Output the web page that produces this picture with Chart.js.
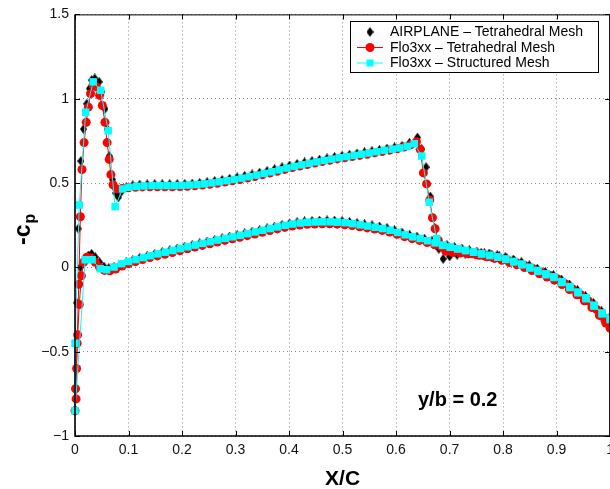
<!DOCTYPE html>
<html><head><meta charset="utf-8">
<script src="https://cdn.jsdelivr.net/npm/chart.js@4.4.1/dist/chart.umd.min.js"></script>
<style>
html,body{margin:0;padding:0;background:#fff;overflow:hidden;width:610px;height:489px}
#wrap{position:relative;width:610px;height:489px;overflow:hidden}
canvas{display:block}
</style></head>
<body><div id="wrap"><canvas id="c" width="620" height="489"></canvas></div>
<script>
// ---------- tick labels ----------
const xTickValues = [0,0.1,0.2,0.3,0.4,0.5,0.6,0.7,0.8,0.9,1];
const xTickLabels = ['0','0.1','0.2','0.3','0.4','0.5','0.6','0.7','0.8','0.9','1'];
const yTickValues = [-1,-0.5,0,0.5,1,1.5];
const yTickLabels = ['\u22121','\u22120.5','0','0.5','1','1.5'];
const legendLabels = ['AIRPLANE \u2013 Tetrahedral Mesh','Flo3xx \u2013 Tetrahedral Mesh','Flo3xx \u2013 Structured Mesh'];

// ---------- AIRPLANE - Tetrahedral Mesh (upper / lower surface) ----------
const airUpperX = [0.000,0.003,0.006,0.011,0.016,0.022,0.027,0.031,0.037,0.045,0.050,0.056,0.060,0.064,0.070,0.076,0.081,0.087,0.096,0.108,0.121,0.135,0.149,0.163,0.177,0.191,0.205,0.219,0.233,0.247,0.261,0.275,0.289,0.303,0.317,0.331,0.345,0.359,0.373,0.387,0.401,0.415,0.429,0.443,0.457,0.471,0.485,0.499,0.513,0.527,0.541,0.555,0.569,0.583,0.597,0.611,0.625,0.640,0.648,0.656,0.664,0.672,0.680,0.688,0.700,0.714,0.729,0.744,0.759,0.774,0.789,0.804,0.819,0.834,0.849,0.864,0.879,0.894,0.909,0.924,0.939,0.954,0.969,0.984,0.998];
const airUpperY = [-0.45,-0.21,0.23,0.63,0.82,0.97,1.06,1.11,1.12,1.10,1.04,0.94,0.82,0.66,0.52,0.44,0.415,0.45,0.476,0.486,0.490,0.492,0.493,0.493,0.493,0.493,0.494,0.496,0.500,0.505,0.511,0.518,0.525,0.533,0.542,0.551,0.561,0.571,0.582,0.593,0.604,0.613,0.622,0.630,0.638,0.646,0.654,0.661,0.668,0.675,0.682,0.689,0.696,0.704,0.711,0.720,0.738,0.770,0.700,0.594,0.420,0.235,0.110,0.050,0.065,0.075,0.082,0.086,0.086,0.082,0.072,0.060,0.046,0.030,0.012,-0.008,-0.028,-0.046,-0.072,-0.102,-0.135,-0.170,-0.212,-0.260,-0.300];
const airLowerX = [0.000,0.004,0.010,0.018,0.025,0.031,0.038,0.046,0.054,0.063,0.073,0.084,0.096,0.108,0.121,0.135,0.149,0.163,0.177,0.191,0.205,0.219,0.233,0.247,0.261,0.275,0.289,0.303,0.317,0.331,0.345,0.359,0.373,0.387,0.401,0.415,0.429,0.443,0.457,0.471,0.485,0.499,0.513,0.527,0.541,0.555,0.569,0.583,0.597,0.611,0.625,0.639,0.653,0.667,0.681,0.695,0.709,0.723,0.737,0.751,0.765,0.779,0.793,0.807,0.821,0.835,0.849,0.863,0.877,0.891,0.905,0.919,0.933,0.947,0.961,0.975,0.989,0.998];
const airLowerY = [-0.85,-0.40,0.00,0.05,0.07,0.08,0.06,0.03,0.005,-0.005,0.000,0.013,0.030,0.043,0.056,0.068,0.079,0.090,0.100,0.111,0.122,0.132,0.142,0.152,0.162,0.172,0.182,0.191,0.201,0.211,0.221,0.231,0.241,0.251,0.260,0.267,0.272,0.275,0.277,0.278,0.277,0.274,0.269,0.263,0.256,0.249,0.242,0.233,0.220,0.206,0.193,0.182,0.170,0.158,0.145,0.132,0.121,0.111,0.102,0.093,0.084,0.075,0.065,0.053,0.039,0.023,0.005,-0.014,-0.034,-0.052,-0.076,-0.104,-0.134,-0.167,-0.204,-0.247,-0.290,-0.317];

// ---------- Flo3xx - Tetrahedral Mesh ----------
const tetUpperX = [0.001,0.004,0.007,0.010,0.013,0.017,0.021,0.025,0.029,0.034,0.040,0.046,0.051,0.056,0.060,0.064,0.067,0.071,0.078,0.088,0.100,0.113,0.126,0.140,0.154,0.168,0.182,0.196,0.210,0.224,0.238,0.252,0.266,0.280,0.294,0.308,0.322,0.336,0.350,0.364,0.378,0.392,0.406,0.420,0.434,0.448,0.462,0.476,0.490,0.504,0.518,0.532,0.546,0.560,0.574,0.588,0.602,0.615,0.628,0.638,0.645,0.651,0.657,0.663,0.668,0.673,0.679,0.685,0.693,0.706,0.720,0.735,0.750,0.765,0.780,0.795,0.810,0.825,0.840,0.855,0.870,0.885,0.900,0.915,0.930,0.945,0.960,0.975,0.990,1.000];
const tetUpperY = [-0.72,-0.45,-0.10,0.30,0.58,0.74,0.86,0.95,1.03,1.08,1.07,1.02,0.96,0.86,0.74,0.64,0.55,0.49,0.465,0.468,0.472,0.475,0.477,0.478,0.478,0.478,0.478,0.479,0.481,0.484,0.488,0.493,0.499,0.506,0.513,0.521,0.530,0.539,0.549,0.559,0.570,0.581,0.592,0.601,0.610,0.619,0.627,0.635,0.643,0.650,0.657,0.664,0.671,0.679,0.687,0.695,0.703,0.713,0.728,0.745,0.700,0.560,0.495,0.400,0.294,0.229,0.160,0.120,0.095,0.088,0.085,0.080,0.075,0.068,0.060,0.050,0.040,0.027,0.012,-0.006,-0.026,-0.046,-0.066,-0.096,-0.128,-0.162,-0.200,-0.250,-0.310,-0.360];
const tetLowerX = [0.000,0.002,0.003,0.005,0.008,0.012,0.016,0.022,0.030,0.038,0.046,0.055,0.065,0.076,0.088,0.100,0.113,0.126,0.140,0.154,0.168,0.182,0.196,0.210,0.224,0.238,0.252,0.266,0.280,0.294,0.308,0.322,0.336,0.350,0.364,0.378,0.392,0.406,0.420,0.434,0.448,0.462,0.476,0.490,0.504,0.518,0.532,0.546,0.560,0.574,0.588,0.602,0.616,0.630,0.644,0.658,0.672,0.686,0.700,0.714,0.728,0.742,0.756,0.770,0.784,0.798,0.812,0.826,0.840,0.854,0.868,0.882,0.896,0.910,0.924,0.938,0.952,0.966,0.980,0.992,1.000];
const tetLowerY = [-0.85,-0.78,-0.60,-0.40,-0.22,-0.05,0.03,0.060,0.055,0.030,0.000,-0.018,-0.020,-0.010,0.008,0.022,0.034,0.046,0.058,0.068,0.078,0.088,0.099,0.110,0.120,0.130,0.140,0.150,0.160,0.169,0.178,0.188,0.198,0.208,0.218,0.228,0.237,0.245,0.251,0.255,0.257,0.258,0.258,0.256,0.253,0.248,0.241,0.234,0.227,0.219,0.209,0.196,0.182,0.170,0.160,0.147,0.134,0.121,0.109,0.099,0.090,0.081,0.072,0.063,0.053,0.042,0.029,0.015,-0.001,-0.019,-0.038,-0.057,-0.076,-0.102,-0.132,-0.163,-0.198,-0.238,-0.285,-0.330,-0.360];

// ---------- Flo3xx - Structured Mesh ----------
const strUpperX = [0.000,0.008,0.020,0.034,0.048,0.062,0.075,0.089,0.101,0.115,0.129,0.144,0.158,0.172,0.186,0.200,0.214,0.228,0.242,0.256,0.270,0.284,0.298,0.312,0.326,0.340,0.354,0.368,0.382,0.396,0.410,0.424,0.438,0.452,0.466,0.480,0.494,0.508,0.522,0.536,0.550,0.564,0.578,0.593,0.607,0.621,0.634,0.648,0.662,0.676,0.688,0.702,0.716,0.730,0.745,0.760,0.775,0.790,0.805,0.820,0.835,0.850,0.865,0.880,0.895,0.910,0.925,0.940,0.955,0.970,0.985,1.000];
const strUpperY = [-0.45,0.37,0.92,1.10,1.05,0.81,0.36,0.465,0.475,0.48,0.483,0.485,0.485,0.485,0.485,0.486,0.488,0.491,0.495,0.501,0.507,0.514,0.521,0.529,0.538,0.547,0.557,0.567,0.578,0.589,0.599,0.608,0.617,0.626,0.634,0.642,0.650,0.657,0.664,0.671,0.678,0.686,0.694,0.701,0.708,0.717,0.733,0.660,0.386,0.170,0.130,0.120,0.110,0.100,0.090,0.080,0.072,0.062,0.050,0.036,0.020,0.001,-0.018,-0.038,-0.056,-0.084,-0.114,-0.146,-0.180,-0.224,-0.270,-0.300];
const strLowerX = [0.000,0.019,0.032,0.047,0.059,0.073,0.087,0.100,0.114,0.128,0.141,0.155,0.169,0.183,0.197,0.211,0.225,0.239,0.253,0.267,0.281,0.295,0.309,0.323,0.337,0.351,0.365,0.379,0.393,0.407,0.421,0.435,0.449,0.463,0.477,0.491,0.505,0.519,0.533,0.547,0.561,0.575,0.589,0.603,0.617,0.631,0.645,0.659,0.673,0.687,0.701,0.715,0.730,0.745,0.760,0.775,0.790,0.805,0.820,0.835,0.850,0.865,0.880,0.895,0.910,0.925,0.940,0.955,0.970,0.985,1.000];
const strLowerY = [-0.85,0.045,0.045,-0.008,-0.014,0.002,0.022,0.035,0.046,0.058,0.069,0.080,0.090,0.100,0.111,0.122,0.132,0.142,0.152,0.162,0.172,0.181,0.190,0.200,0.210,0.220,0.230,0.240,0.249,0.257,0.263,0.267,0.269,0.270,0.270,0.268,0.265,0.259,0.252,0.245,0.238,0.230,0.220,0.207,0.193,0.181,0.171,0.158,0.145,0.132,0.120,0.110,0.100,0.090,0.080,0.070,0.060,0.047,0.032,0.015,-0.004,-0.024,-0.044,-0.060,-0.090,-0.120,-0.151,-0.186,-0.230,-0.276,-0.310];

// ---------- helpers ----------
function toPoints(xs, ys) {
  const n = Math.min(xs.length, ys.length), out = [];
  for (let i = 0; i < n; i++) out.push({x: xs[i], y: ys[i]});
  return out;
}
// surface loop: upper surface from trailing edge to leading edge, then lower surface back
function surfaceLoop(ux, uy, lx, ly) {
  return toPoints(ux, uy).reverse().concat(toPoints(lx, ly));
}

// MATLAB-like tall diamond marker
function makeDiamond(w, h, color) {
  const c = document.createElement('canvas');
  c.width = w; c.height = h;
  const g = c.getContext('2d');
  g.fillStyle = color;
  g.beginPath();
  g.moveTo(w / 2, 0); g.lineTo(w, h / 2); g.lineTo(w / 2, h); g.lineTo(0, h / 2);
  g.closePath(); g.fill();
  return c;
}
const diamond = makeDiamond(7, 10, '#000000');

const FONT = "'Liberation Sans', Arial, Helvetica, sans-serif";
Chart.defaults.font.family = FONT;

const decorations = {
  id: 'decorations',
  afterDraw(chart) {
    const {ctx, chartArea: a, scales: {x, y}} = chart;
    ctx.save();
    // axes box
    ctx.strokeStyle = '#000';
    ctx.lineWidth = 1;
    ctx.beginPath();
    ctx.moveTo(a.left, a.top + 0.5); ctx.lineTo(a.right, a.top + 0.5);
    ctx.moveTo(a.right - 0.5, a.top); ctx.lineTo(a.right - 0.5, a.bottom);
    ctx.stroke();
    ctx.lineWidth = 1.6;
    ctx.beginPath();
    ctx.moveTo(a.left, a.top); ctx.lineTo(a.left, a.bottom); ctx.lineTo(a.right, a.bottom);
    ctx.stroke();
    // inward ticks
    ctx.lineWidth = 1;
    ctx.beginPath();
    xTickValues.forEach(v => {
      const px = Math.round(x.getPixelForValue(v)) + 0.5;
      ctx.moveTo(px, a.bottom); ctx.lineTo(px, a.bottom - 5);
      ctx.moveTo(px, a.top); ctx.lineTo(px, a.top + 5);
    });
    yTickValues.forEach(v => {
      const py = Math.round(y.getPixelForValue(v)) + 0.5;
      ctx.moveTo(a.left, py); ctx.lineTo(a.left + 5, py);
      ctx.moveTo(a.right, py); ctx.lineTo(a.right - 5, py);
    });
    ctx.stroke();

    // legend
    const bx = 350, by = 21, bw = 249, bh = 52;
    ctx.fillStyle = '#fff';
    ctx.fillRect(bx, by, bw, bh);
    ctx.strokeStyle = '#000';
    ctx.lineWidth = 1;
    ctx.strokeRect(bx + 0.5, by + 0.5, bw - 1, bh - 1);
    const rows = [32, 47.5, 63];
    ctx.font = '14px ' + FONT;
    ctx.textBaseline = 'middle';
    ctx.textAlign = 'left';
    // row 1: diamond only
    ctx.drawImage(diamond, 370 - 3.5, rows[0] - 5);
    // row 2: red line + circle
    ctx.strokeStyle = '#ff0000'; ctx.fillStyle = '#ff0000';
    ctx.beginPath(); ctx.moveTo(357, rows[1]); ctx.lineTo(383, rows[1]); ctx.stroke();
    ctx.beginPath(); ctx.arc(370, rows[1], 4.5, 0, Math.PI * 2); ctx.fill();
    // row 3: cyan line + square
    ctx.strokeStyle = '#00ffff'; ctx.fillStyle = '#00ffff';
    ctx.beginPath(); ctx.moveTo(357, rows[2]); ctx.lineTo(383, rows[2]); ctx.stroke();
    ctx.fillRect(366.5, rows[2] - 3.5, 7, 7);
    ctx.fillStyle = '#000';
    legendLabels.forEach((t, i) => ctx.fillText(t, 390, rows[i] + 0.5));

    // annotation
    ctx.font = 'bold 20px ' + FONT;
    ctx.textBaseline = 'alphabetic';
    ctx.fillText('y/b = 0.2', 418, 406);

    // x title
    ctx.font = 'bold 21px ' + FONT;
    ctx.textAlign = 'center';
    ctx.fillText('X/C', (a.left + a.right) / 2, 485);

    // y title  -c_p
    ctx.save();
    ctx.translate(30, 245);
    ctx.rotate(-Math.PI / 2);
    ctx.textAlign = 'left';
    ctx.font = 'bold 23px ' + FONT;
    ctx.fillText('-c', 0, 0);
    const w = ctx.measureText('-c').width;
    ctx.font = 'bold 16px ' + FONT;
    ctx.fillText('p', w + 1, 5);
    ctx.restore();

    ctx.restore();
  }
};

const chart = new Chart(document.getElementById('c'), {
  type: 'scatter',
  data: {
    datasets: [
      {
        label: legendLabels[0],
        data: toPoints(airUpperX, airUpperY).concat(toPoints(airLowerX, airLowerY)),
        showLine: false,
        pointStyle: diamond,
        pointRadius: 5,
        backgroundColor: '#000',
        borderColor: '#000',
        order: 3,
        clip: false
      },
      {
        label: legendLabels[1],
        data: surfaceLoop(tetUpperX, tetUpperY, tetLowerX, tetLowerY),
        showLine: true,
        tension: 0,
        borderColor: '#ff0000',
        backgroundColor: '#ff0000',
        borderWidth: 1,
        pointStyle: 'circle',
        pointRadius: 4.5,
        pointBorderWidth: 0,
        order: 2,
        clip: false
      },
      {
        label: legendLabels[2],
        data: surfaceLoop(strUpperX, strUpperY, strLowerX, strLowerY),
        showLine: true,
        tension: 0,
        borderColor: '#00ffff',
        backgroundColor: '#00ffff',
        borderWidth: 1,
        pointStyle: 'rect',
        pointRadius: 5.3,
        pointBorderWidth: 0,
        order: 1,
        clip: false
      }
    ]
  },
  options: {
    responsive: false,
    animation: false,
    events: [],
    layout: {padding: {top: 13, right: 9, left: 0, bottom: 0}},
    plugins: {legend: {display: false}, tooltip: {enabled: false}, title: {display: false}},
    scales: {
      x: {
        type: 'linear', min: 0, max: 1,
        afterFit(s) { s.height = 53; },
        afterBuildTicks(s) { s.ticks = xTickValues.map(v => ({value: v})); },
        ticks: {callback: (v, i) => xTickLabels[i], font: {size: 14}, color: '#111', padding: 6, maxRotation: 0, autoSkip: false},
        grid: {color: '#8a8a8a', lineWidth: 1, drawTicks: false},
        border: {display: false, dash: [1, 3]}
      },
      y: {
        type: 'linear', min: -1, max: 1.5,
        afterFit(s) { s.width = 75; },
        afterBuildTicks(s) { s.ticks = yTickValues.map(v => ({value: v})); },
        ticks: {callback: (v, i) => yTickLabels[i], font: {size: 14}, color: '#111', padding: 6, autoSkip: false},
        grid: {color: '#8a8a8a', lineWidth: 1, drawTicks: false},
        border: {display: false, dash: [1, 3]}
      }
    }
  },
  plugins: [decorations]
});
</script>
</body></html>
